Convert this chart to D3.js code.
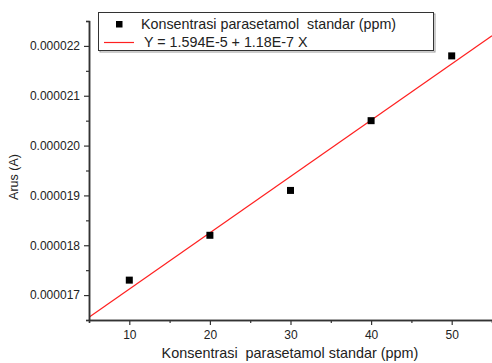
<!DOCTYPE html>
<html><head><meta charset="utf-8">
<script src="https://cdn.jsdelivr.net/npm/d3@7"></script>
<style>body{margin:0;background:#fff}svg{display:block}text{font-family:"Liberation Sans",Arial,sans-serif;fill:#222;white-space:pre}</style>
</head><body><svg id="c" width="492" height="363"></svg>
<script>
const concentration = [10, 20, 30, 40, 50];
const current = [1.73e-5, 1.82e-5, 1.91e-5, 2.05e-5, 2.18e-5];
const xTicks = [10, 20, 30, 40, 50];
const yTicks = [0.000017, 0.000018, 0.000019, 0.000020, 0.000021, 0.000022];
const yTickLabels = ["0.000017", "0.000018", "0.000019", "0.000020", "0.000021", "0.000022"];
const xDomain = [5, 55];
const yDomain = [1.65e-5, 2.25e-5];
const legendLabels = ["Konsentrasi parasetamol  standar (ppm)", "Y = 1.594E-5 + 1.18E-7 X"];
const xTitle = "Konsentrasi  parasetamol standar (ppm)";
const yTitle = "Arus (A)";

const svg = d3.select("#c");
const L = 89, R = 492, T = 21, B = 320;
const x = d3.scaleLinear().domain(xDomain).range([L, R]);
const y = d3.scaleLinear().domain(yDomain).range([B, T]);

// regression line from data
const mx = d3.mean(concentration), my = d3.mean(current);
const slope = d3.sum(concentration, (c, i) => (c - mx) * (current[i] - my)) / d3.sum(concentration, c => (c - mx) ** 2);
const icpt = my - slope * mx;

svg.append("defs").append("clipPath").attr("id", "clip").append("rect")
  .attr("x", L).attr("y", T).attr("width", R - L).attr("height", B - T);

svg.append("line").attr("clip-path", "url(#clip)")
  .attr("x1", x(xDomain[0])).attr("y1", y(icpt + slope * xDomain[0]))
  .attr("x2", x(xDomain[1])).attr("y2", y(icpt + slope * xDomain[1]))
  .attr("stroke", "#ff2020").attr("stroke-width", 1.2);

svg.selectAll("rect.pt").data(concentration).enter().append("rect").attr("class", "pt")
  .attr("x", (d) => x(d) - 3.5).attr("y", (d, i) => y(current[i]) - 3.5)
  .attr("width", 7).attr("height", 7).attr("fill", "#000");

// axes
const axisColor = "#333";
const minorX = d3.range(xDomain[0], xDomain[1] + 0.01, 5).filter(v => !xTicks.includes(v));
const minorY = d3.range(1.65e-5, 2.26e-5, 1e-6);

const gx = svg.append("g").attr("transform", `translate(0,${B})`)
  .call(d3.axisBottom(x).tickValues(xTicks).tickSize(5).tickPadding(5).tickFormat(d3.format("d")));
const gxm = svg.append("g").attr("transform", `translate(0,${B})`)
  .call(d3.axisBottom(x).tickValues(minorX).tickSize(3).tickFormat(""));
const gy = svg.append("g").attr("transform", `translate(${L},0)`)
  .call(d3.axisLeft(y).tickValues(yTicks).tickSize(5).tickPadding(4).tickFormat((d, i) => yTickLabels[i]));
const gym = svg.append("g").attr("transform", `translate(${L},0)`)
  .call(d3.axisLeft(y).tickValues(minorY).tickSize(3).tickFormat(""));
[gx, gxm, gy, gym].forEach(g => {
  g.select(".domain").attr("stroke", axisColor).attr("stroke-width", 1.5);
  g.selectAll(".tick line").attr("stroke", axisColor).attr("stroke-width", 1.2);
  g.selectAll("text").attr("font-size", "12px").attr("fill", "#222").style("font-family", '"Liberation Sans",Arial,sans-serif');
});
gx.select(".domain").attr("d", `M${L},0.5H${R}`);
gy.select(".domain").attr("d", `M0.5,${B}V${T}`);

svg.append("text").attr("x", 290).attr("y", 358).attr("text-anchor", "middle")
  .attr("font-size", "14.4px").text(xTitle);
svg.append("text").attr("transform", `translate(18,${177}) rotate(-90)`).attr("text-anchor", "middle")
  .attr("font-size", "12.5px").text(yTitle);

// legend
const lg = svg.append("g");
lg.append("rect").attr("x", 100).attr("y", 14).attr("width", 335).attr("height", 38)
  .attr("fill", "none").attr("stroke", "#999").attr("stroke-width", 1);
lg.append("rect").attr("x", 98.5).attr("y", 12.5).attr("width", 335).attr("height", 38)
  .attr("fill", "#fff").attr("stroke", "#333").attr("stroke-width", 1);
lg.append("rect").attr("x", 116).attr("y", 21).attr("width", 6.5).attr("height", 6.5).attr("fill", "#000");
lg.append("line").attr("x1", 104).attr("x2", 134).attr("y1", 42.5).attr("y2", 42.5)
  .attr("stroke", "#ff2020").attr("stroke-width", 1.2);
lg.append("text").attr("x", 141).attr("y", 29).attr("font-size", "14.3px").text(legendLabels[0]);
lg.append("text").attr("x", 144).attr("y", 46.5).attr("font-size", "14.3px").text(legendLabels[1]);
</script></body></html>
